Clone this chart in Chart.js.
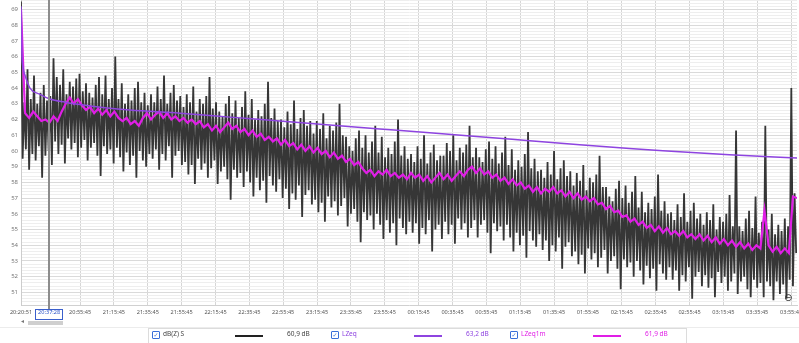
<!DOCTYPE html>
<html><head><meta charset="utf-8">
<script src="https://cdn.jsdelivr.net/npm/chart.js@4.4.1/dist/chart.umd.min.js"></script>
<style>
html,body{margin:0;padding:0;background:#fff;width:799px;height:343px;overflow:hidden;font-family:"Noto Sans","Open Sans",sans-serif;}
#wrap{position:absolute;left:0;top:0;width:799px;height:320px;}
#sep{position:absolute;left:0;top:327px;width:799px;height:1px;background:#ececec;}
#thumb{position:absolute;left:28px;top:321px;width:35px;height:4px;background:#cfcfcf;}
#arrow{position:absolute;left:21px;top:317px;font-size:6px;color:#777;}
#legend{position:absolute;left:148px;top:328px;width:539px;height:15px;border:1px solid #dcdcdc;border-bottom:none;box-sizing:border-box;}
.cb{position:absolute;top:331px;width:6px;height:6px;border:1px solid #3a6fd8;border-radius:1px;font-size:6px;line-height:6px;text-align:center;color:#3a6fd8;font-family:"DejaVu Sans",sans-serif;}
.lt{position:absolute;top:330px;font-size:6.5px;line-height:8px;white-space:nowrap;}
.ln{position:absolute;top:335px;height:1.5px;width:28px;}
#zoomout{position:absolute;left:784px;top:292px;font-size:10px;line-height:12px;color:#333;font-family:"DejaVu Sans",sans-serif;}
</style></head><body>
<div id="wrap"><canvas id="c" width="799" height="320"></canvas></div>
<div id="sep"></div>
<span id="arrow">◂</span><div id="thumb"></div>
<div id="legend"></div>
<span id="zoomout">⊖</span>
<script>
// ---------- data ----------
const startLabel = '20:20:51';
const cursorLabel = '20:37:28';
const tickLabels = ['20:20:51','20:37:28','20:55:45','21:15:45','21:35:45','21:55:45','22:15:45','22:35:45','22:55:45','23:15:45','23:35:45','23:55:45','00:15:45','00:35:45','00:55:45','01:15:45','01:35:45','01:55:45','02:15:45','02:35:45','02:55:45','03:15:45','03:35:45','03:55:45'];

// LZeq (running Leq), minutes since start
const lzeqMinutes = [0,0.6,1.2,2.4,5.3,11.2,17.1,26,34.8,49.6,64.3,93.9,123.4,152.9,182.4,211.9,241.4,271,300.5,330,359.5,389,418.5,458.4];
const lzeqValues = [69.2,66.0,65.3,64.8,64.0,63.6,63.3,63.1,62.95,62.75,62.6,62.4,62.15,61.9,61.65,61.4,61.15,60.9,60.65,60.4,60.15,59.95,59.75,59.55];

// LZeq1m, one value every 2.4 minutes
const lzeq1mStepMin = 2.4;
const lzeq1mValues = [
69.0,62.4,62.1,62.5,62.2,61.9,62.0,61.8,62.2,61.9,
62.5,63.0,63.4,63.0,63.3,62.9,62.6,62.8,62.4,62.7,
62.3,62.6,62.2,62.5,62.1,61.9,62.1,61.7,61.9,61.6,
62.1,62.4,62.0,62.3,62.5,62.1,62.4,62.0,62.2,61.9,
62.1,61.8,62.0,61.7,61.9,61.5,61.7,61.3,61.6,61.2,
61.5,61.8,61.4,61.6,61.2,61.4,61.0,61.3,60.9,61.1,
60.7,60.9,60.6,60.8,60.4,60.7,60.3,60.5,60.1,60.4,
60.0,60.3,59.9,60.2,59.8,60.0,59.6,59.9,59.5,59.7,
59.3,59.5,59.1,59.3,58.9,58.6,58.8,58.4,58.7,58.5,
58.8,58.4,58.6,58.3,58.5,58.2,58.6,58.3,58.5,58.1,
58.4,58.0,58.3,58.6,58.2,58.5,58.1,58.4,58.7,58.4,
58.8,59.0,58.6,58.9,58.5,58.7,58.3,58.5,58.1,58.3,
57.9,58.2,57.8,58.0,57.6,57.8,57.4,57.7,57.3,57.6,
57.4,57.7,57.3,57.5,57.1,57.4,57.0,57.3,56.9,57.1,
56.8,57.0,56.6,56.7,56.3,56.5,56.1,56.2,55.8,55.9,
55.5,55.7,55.3,55.5,55.1,55.3,54.9,55.2,54.8,55.1,
54.7,54.9,54.6,54.9,54.5,54.7,54.4,54.7,54.3,54.6,
54.2,54.5,54.1,54.4,54.0,54.3,53.9,54.2,53.8,54.1,
53.7,54.0,53.8,56.2,54.0,53.6,53.9,53.5,53.8,53.5,
57.1,57.0];

// dB(Z) S: fast level, alternating peak / trough samples every 0.96 minutes
const dbzStepMin = 0.96;
const dbzPeaks = [
69.5,63.1,65.2,63.3,64.8,63.0,63.7,64.2,63.2,63.5,
65.9,64.7,64.2,65.2,63.6,64.4,64.1,64.6,64.9,63.8,
64.3,63.7,63.4,64.2,64.7,63.6,64.8,63.3,64.0,66.0,
63.3,64.3,63.0,63.6,63.2,64.0,64.4,63.1,63.7,62.9,
63.6,63.1,64.1,63.3,64.8,63.0,63.7,64.2,63.2,63.5,
62.8,63.6,63.1,64.1,62.5,63.3,63.0,63.5,64.7,62.7,
63.1,62.5,62.2,63.0,63.5,62.4,63.2,62.1,62.8,63.8,
62.3,63.3,62.0,62.6,62.2,63.0,64.4,62.1,62.7,61.9,
62.0,61.5,62.5,61.7,63.2,61.4,62.1,62.6,61.6,61.9,
61.1,61.9,61.4,62.4,60.8,61.6,61.3,61.8,63.0,61.0,
60.9,60.3,60.0,60.8,61.3,60.2,61.0,59.9,60.6,61.6,
59.9,60.9,59.6,60.2,59.8,60.6,62.0,59.7,60.3,59.5,
59.8,59.3,60.3,59.5,61.0,59.2,59.9,60.4,59.4,59.7,
59.7,60.5,60.0,61.0,59.4,60.2,59.9,60.4,61.6,59.6,
60.2,59.6,59.3,60.1,60.6,59.5,60.3,59.2,59.9,60.9,
59.1,60.1,58.8,59.4,59.0,59.8,61.2,58.9,59.5,58.7,
58.8,58.3,59.3,58.5,60.0,58.2,58.9,59.4,58.4,58.7,
57.8,58.6,58.1,59.1,57.5,58.3,58.0,58.5,59.7,57.7,
57.7,57.1,56.8,57.6,58.1,57.0,57.8,56.7,57.4,58.4,
56.4,57.4,56.1,56.7,56.3,57.1,58.5,56.2,56.8,56.0,
56.1,55.6,56.6,55.8,57.3,55.5,56.2,56.7,55.7,56.0,
55.3,56.1,55.6,56.6,55.0,55.8,55.5,56.0,57.2,55.2,
61.3,55.2,54.9,55.7,56.2,55.1,57.1,54.8,55.5,61.6,
55.0,56.0,54.7,55.3,54.9,55.7,55.2,64.0,57.3];
const dbzTroughs = [
59.5,60.1,58.8,59.8,59.4,60.3,58.3,59.7,60.0,59.1,
60.6,59.8,60.4,59.2,60.8,60.1,60.5,59.6,60.2,60.7,
59.4,60.2,60.5,59.7,58.4,60.3,59.8,60.1,59.2,60.2,
59.6,58.7,59.9,59.1,59.7,58.3,60.0,59.4,59.0,59.8,
59.5,60.1,58.8,59.8,59.4,60.3,58.3,59.7,60.0,59.1,
59.3,58.5,59.1,57.9,59.5,58.8,59.2,58.3,58.9,59.4,
57.9,58.7,59.0,58.2,56.9,58.8,58.3,58.6,57.7,58.7,
58.0,57.1,58.3,57.5,58.1,56.7,58.4,57.8,57.4,58.2,
57.0,57.6,56.3,57.3,56.9,57.8,55.8,57.2,57.5,56.6,
56.9,56.1,56.7,55.5,57.1,56.4,56.8,55.9,56.5,57.0,
55.2,56.0,56.3,55.5,54.2,56.1,55.6,55.9,55.0,56.0,
55.3,54.4,55.6,54.8,55.4,54.0,55.7,55.1,54.7,55.5,
54.8,55.4,54.1,55.1,54.7,55.6,53.6,55.0,55.3,54.4,
55.5,54.7,55.3,54.1,55.7,55.0,55.4,54.5,55.1,55.6,
54.5,55.3,55.6,54.8,53.5,55.4,54.9,55.2,54.3,55.3,
54.5,53.6,54.8,54.0,54.6,53.2,54.9,54.3,53.9,54.7,
53.7,54.3,53.0,54.0,53.6,54.5,52.5,53.9,54.2,53.3,
53.6,52.8,53.4,52.2,53.8,53.1,53.5,52.6,53.2,53.7,
52.2,53.0,53.3,52.5,51.2,53.1,52.6,52.9,52.0,53.0,
52.4,51.5,52.7,51.9,52.5,51.1,52.8,52.2,51.8,52.6,
51.8,52.4,51.1,52.1,51.7,52.6,50.6,52.0,52.3,51.4,
52.1,51.3,51.9,50.7,52.3,51.6,52.0,51.1,51.7,52.2,
50.9,51.7,52.0,51.2,50.7,51.8,51.3,51.6,50.7,51.7,
51.4,50.5,51.7,50.9,51.5,50.6,51.8,51.4,53.5];

const seriesNames = ['dB(Z) S','LZeq','LZeq1m'];
const cursorReadings = ['60,9 dB','63,2 dB','61,9 dB'];

// ---------- helpers ----------
function toMin(lbl){
  const p = lbl.split(':').map(Number);
  const s0 = startLabel.split(':').map(Number);
  let d = (p[0]*3600+p[1]*60+p[2]) - (s0[0]*3600+s0[1]*60+s0[2]);
  if (d < 0) d += 86400;
  return d/60;
}
const tickVals = tickLabels.map(toMin);
const cursorT = toMin(cursorLabel);

const lzeqPts = lzeqMinutes.map((t,i)=>({x:t,y:lzeqValues[i]}));
const lz1mPts = lzeq1mValues.map((v,i)=>({x:i*lzeq1mStepMin,y:v}));
const dbzPts = [];
dbzPeaks.forEach((v,i)=>{
  dbzPts.push({x:(2*i)*dbzStepMin, y:v});
  dbzPts.push({x:(2*i+1)*dbzStepMin, y:dbzTroughs[i]});
});

const COL_DBZ = '#363636', COL_LZEQ = '#8e44e0', COL_LZ1M = '#e01ee6';

// ---------- legend ----------
const legendColors = ['#444', COL_LZEQ, COL_LZ1M];
const lineColors = ['#222', COL_LZEQ, COL_LZ1M];
const legendX = [152, 331, 510];
const body = document.body;
seriesNames.forEach((n,i)=>{
  const x0 = legendX[i];
  const cb = document.createElement('span'); cb.className='cb'; cb.style.left=x0+'px'; cb.textContent='✓'; body.appendChild(cb);
  const t = document.createElement('span'); t.className='lt'; t.style.left=(x0+11)+'px'; t.style.color=legendColors[i]; t.textContent=n; body.appendChild(t);
  const l = document.createElement('span'); l.className='ln'; l.style.left=(x0+83)+'px'; l.style.background=lineColors[i]; body.appendChild(l);
  const v = document.createElement('span'); v.className='lt'; v.style.left=(x0+135)+'px'; v.style.color=legendColors[i]; v.textContent=cursorReadings[i]; body.appendChild(v);
});

// ---------- chart ----------
const cursorPlugin = {
  id:'cursor',
  afterDatasetsDraw(chart){
    const {ctx, chartArea:a, scales:{x}} = chart;
    const px = Math.round(x.getPixelForValue(cursorT));
    ctx.save();
    ctx.strokeStyle='#8c8c8c'; ctx.lineWidth=2;
    ctx.beginPath(); ctx.moveTo(px, a.top); ctx.lineTo(px, a.bottom+4); ctx.stroke();
    ctx.restore();
  },
  afterDraw(chart){
    const {ctx, chartArea:a, scales:{x}} = chart;
    const px = Math.round(x.getPixelForValue(cursorT));
    ctx.save();
    ctx.strokeStyle='#3a5fcc'; ctx.lineWidth=1;
    ctx.strokeRect(px-13.5, a.bottom+4.5, 27, 10);
    ctx.restore();
  }
};

const yTicks = [];
for (let k=251;k<=348;k++) yTicks.push(k/5);
const isInt = v => Math.abs(v-Math.round(v))<1e-6;
const FONT = '"Noto Sans","Open Sans",sans-serif';

new Chart(document.getElementById('c'), {
  type:'line',
  data:{datasets:[
    {label:'LZeq', data:lzeqPts, borderColor:COL_LZEQ, borderWidth:1.5, pointRadius:0, cubicInterpolationMode:'monotone'},
    {label:'LZeq1m', data:lz1mPts, borderColor:COL_LZ1M, borderWidth:2.2, pointRadius:0, tension:0},
    {label:'dB(Z) S', data:dbzPts, borderColor:COL_DBZ, borderWidth:1.8, pointRadius:0, tension:0}
  ]},
  options:{
    responsive:false, animation:false, events:[],
    layout:{padding:{left:0,right:2,top:0,bottom:0}},
    plugins:{legend:{display:false}, tooltip:{enabled:false}},
    scales:{
      x:{type:'linear', min:0, max:458.4,
        afterBuildTicks:s=>{s.ticks = tickVals.map(v=>({value:v}));},
        afterFit:s=>{s.height=15; s.paddingLeft=0; s.paddingRight=0;},
        ticks:{autoSkip:false, maxRotation:0, minRotation:0, padding:4.5,
          font:{size:5.6, family:FONT},
          color:c=> (c.index===1 ? '#2d55c8' : '#555'),
          callback:(v,i)=>tickLabels[i]},
        grid:{drawTicks:false, lineWidth:1, color:c=> (c.index===1 ? 'rgba(0,0,0,0)' : '#d6d6d6')},
        border:{color:'#d0d0d0'}
      },
      y:{type:'linear', min:50.2, max:69.6,
        afterBuildTicks:s=>{s.ticks = yTicks.map(v=>({value:v}));},
        afterFit:s=>{s.width=21; s.paddingTop=0; s.paddingBottom=0;},
        ticks:{autoSkip:false, padding:3,
          font:{size:6, family:FONT},
          color:'#777',
          callback:v=> isInt(v) ? String(Math.round(v)) : ''},
        grid:{drawTicks:false, lineWidth:1, color:c=> (isInt(c.tick.value) ? '#dadada' : '#eeeeee')},
        border:{color:'#cccccc'}
      }
    }
  },
  plugins:[cursorPlugin]
});
</script>
</body></html>
